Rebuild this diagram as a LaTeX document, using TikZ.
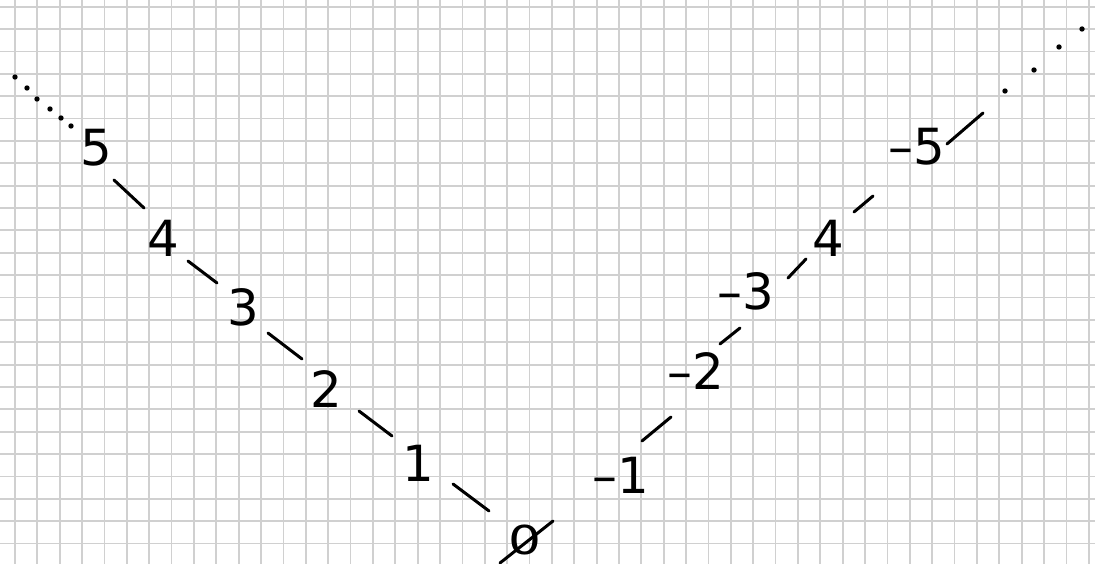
\documentclass[tikz,border=0pt]{standalone}
\usepackage{fontspec}
\setmainfont{DejaVu Sans}
\begin{document}
\begin{tikzpicture}[x=1bp,y=-1bp,
  gridline/.style={draw=gridgray,line width=1.8bp},
  ink/.style={draw=black,line width=3bp,line cap=round},
  num/.style={inner sep=0pt,font=\fontsize{50}{60}\selectfont},
  inkdot/.style={fill=black,draw=none}]
\definecolor{gridgray}{RGB}{208,208,208}
\fill[white] (0,0) rectangle (1095,564);
\useasboundingbox (0,0) rectangle (1095,564);
% grid
\foreach \i in {0,...,48} \draw[gridline] ({15+22.37*\i},0) -- ({15+22.37*\i},564);
\foreach \i in {0,...,24} \draw[gridline] (0,{6.7+22.37*\i}) -- (1095,{6.7+22.37*\i});
% left branch
\node[num] (l5) at (96,148) {5};
\node[num] (l4) at (163,238) {4};
\node[num] (l3) at (243,307) {3};
\node[num] (l2) at (326,389) {2};
\node[num] (l1) at (418,463) {1};
\node[num,xscale=1.3,transform shape,font=\fontsize{40}{48}\selectfont] (z0) at (525,540) {0};
\foreach \p in {(15,77),(27,88),(37,99),(50,109),(61,118),(71,126)}
  \fill[inkdot] \p circle (2.7);
\draw[ink] (114,180) -- (144,208);
\draw[ink] (188,261) -- (217,283);
\draw[ink] (268,333) -- (302,359);
\draw[ink] (359,411) -- (392,436);
\draw[ink] (453,484) -- (489,511);
\draw[ink] (500,563) -- (553,521);
% right branch
\node[num,anchor=base east] (r1) at (649,493) {–1};
\node[num,anchor=base east] (r2) at (724,389) {–2};
\node[num,anchor=base east] (r3) at (774,310) {–3};
\node[num] (r4) at (828,238) {4};
\node[num,anchor=base east] (r5) at (945,165) {–5};
\draw[ink] (642,441) -- (671,417);
\draw[ink] (720,344) -- (740,328);
\draw[ink] (788,278) -- (806,259);
\draw[ink] (854,212) -- (873,196);
\draw[ink] (947,144) -- (983,113);
\foreach \p in {(1005,91),(1034,70),(1059,47),(1082,29)}
  \fill[inkdot] \p circle (2.7);
\end{tikzpicture}
\end{document}
